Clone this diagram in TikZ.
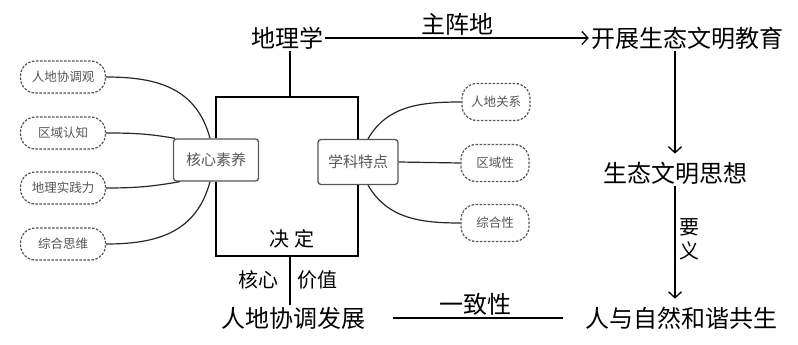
\documentclass[tikz,border=0pt]{standalone}
\usepackage{fontspec}
\setmainfont{Noto Sans CJK SC}
\usetikzlibrary{positioning,arrows.meta,calc}
\definecolor{mapgrey}{RGB}{85,85,85}
\definecolor{branchgrey}{RGB}{40,40,40}

\begin{document}
\begin{tikzpicture}[x=1pt, y=1pt,
  big/.style={inner sep=2pt, font=\fontsize{24}{26}\selectfont},
  mid/.style={inner sep=1pt, font=\fontsize{20}{22}\selectfont},
  core/.style={draw=mapgrey, rounded corners=3pt, line width=1.3pt, text=mapgrey,
    font=\fontsize{15}{17}\selectfont, minimum width=85, minimum height=42, inner sep=2pt},
  leaf/.style={draw=mapgrey, dash pattern=on 2.5pt off 1.5pt, line width=1.2pt,
    rounded corners=15pt, text=mapgrey, font=\fontsize{12.5}{14}\selectfont,
    minimum width=85, minimum height=32, inner sep=2pt},
  bline/.style={line width=2.2pt},
  branch/.style={line width=1.2pt, branchgrey},
  arr/.style={-{Straight Barb[length=6pt, width=13pt]}, line width=1.3pt},
]
\useasboundingbox (0,0) rectangle (798,-345);

% ---- main chain: geography -> education -> thought -> harmony ----
\node[big] (dili) at (287,-38) {地理学};
\node[big] (kaizhan) at (687,-38) {开展生态文明教育};
\node[big] (sixiang) at (675,-173) {生态文明思想};
\node[big] (hexie) at (681,-318) {人与自然和谐共生};
\node[big] (fazhan) at (293,-318) {人地协调发展};

% ---- two mind-map hubs ----
\node[core] (hexin) at (216,-160) {核心素养};
\node[core, minimum width=80, minimum height=45] (xueke) at (358,-162) {学科特点};

% ---- leaves, left column ----
\node[leaf] (rdxtg) at (63,-77) {人地协调观};
\node[leaf] (qyrz) at (63,-133) {区域认知};
\node[leaf] (dlsjl) at (63,-188) {地理实践力};
\node[leaf] (zhsw) at (63,-244) {综合思维};

% ---- leaves, right column ----
\node[leaf, minimum width=68, minimum height=37] (rdgx) at (496,-102) {人地关系};
\node[leaf, minimum width=68, minimum height=37] (qyx) at (495,-163) {区域性};
\node[leaf, minimum width=68, minimum height=37] (zhx) at (495,-223) {综合性};

% ---- frame joining the hubs ----
\coordinate (topbar) at (290,-97);
\coordinate (botbar) at (290,-256);
\draw[bline] (hexin.north) |- (topbar) -| (xueke.north);
\draw[bline] (topbar |- dili.south) -- (topbar);
\draw[bline] (hexin.south) |- (botbar) -| (xueke.south);
\draw[bline] (botbar) -- (botbar |- fazhan.north);

\node[mid] (jueding) at (292,-239) {决\hspace{5pt}定};
\node[mid] (hxin) at (258,-280) {核心};
\node[mid] (jzhi) at (317,-280) {价值};

% ---- branches ----
\draw[branch] (rdxtg.east) to[out=0, in=105, looseness=1.1] ($(hexin.north)+(-6,0)$);
\draw[branch] (qyrz.east) to[out=0, in=170] ($(hexin.north west)+(2,0)$);
\draw[branch] (dlsjl.east) to[out=0, in=190] ($(hexin.south west)+(7,0)$);
\draw[branch] (zhsw.east) to[out=0, in=-105, looseness=1.1] ($(hexin.south)+(-6,0)$);
\draw[branch] ($(xueke.north)+(10,0)$) to[out=60, in=180] (rdgx.west);
\draw[branch] (xueke.east) -- (qyx.west);
\draw[branch] ($(xueke.south)+(10,0)$) to[out=-60, in=180] (zhx.west);

% ---- arrows and links ----
\draw[arr] (dili) -- node[big, above=0pt]{主阵地} (kaizhan);
\draw[arr, shorten >=6pt] (sixiang.north |- kaizhan.south) -- (sixiang.north);
\draw[arr, shorten >=6pt] (sixiang.south) --
  node[mid, right=3pt, align=center, pos=0.45]{要\\[2pt]义} (sixiang.south |- hexie.north);
\draw[line width=2pt, shorten <=26pt, shorten >=20pt] (fazhan) --
  node[big, above=0pt]{一致性} (hexie);

\end{tikzpicture}
\end{document}
